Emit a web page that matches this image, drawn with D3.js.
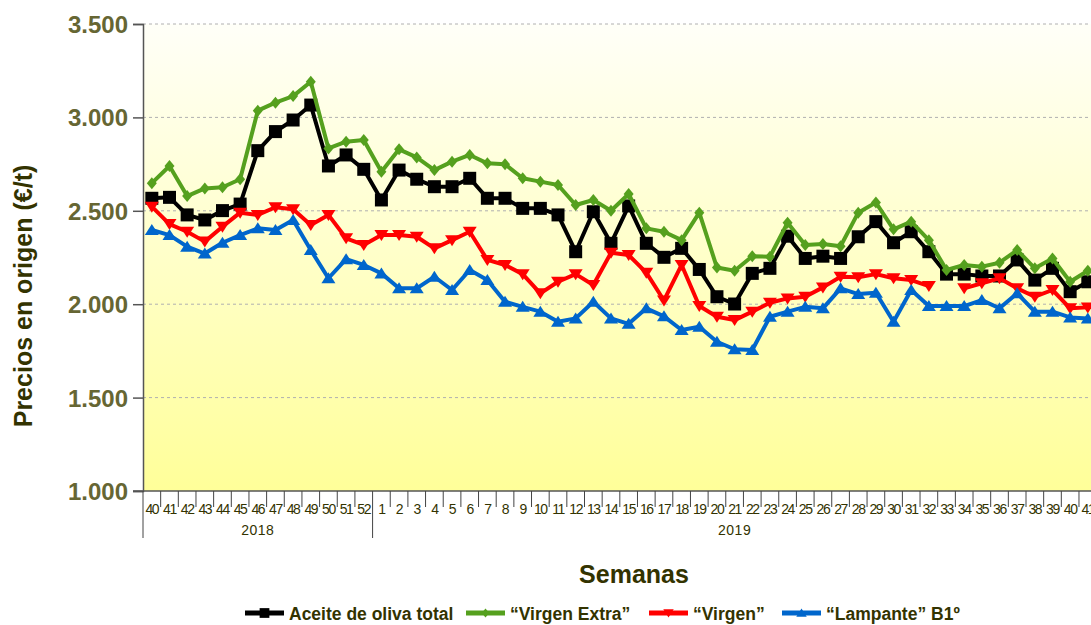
<!DOCTYPE html>
<html><head><meta charset="utf-8">
<script src="https://cdn.jsdelivr.net/npm/d3@7/dist/d3.min.js"></script>
<style>body{margin:0;background:#fff;} svg{display:block;font-family:Arial,"Liberation Sans",sans-serif;}</style>
</head><body>
<svg id="c" width="1091" height="625"></svg>
<script>
const weeks2018 = ["40","41","42","43","44","45","46","47","48","49","50","51","52"];
const weeks2019 = ["1","2","3","4","5","6","7","8","9","10","11","12","13","14","15","16","17","18","19","20","21","22","23","24","25","26","27","28","29","30","31","32","33","34","35","36","37","38","39","40","41"];
const years = ["2018","2019"];
const yTicks = [1000,1500,2000,2500,3000,3500];

const aceiteTotal = [2567,2572,2478,2451,2501,2536,2822,2924,2986,3066,2740,2799,2722,
 2558,2718,2669,2629,2629,2674,2567,2567,2513,2513,2478,2281,2495,2326,2526,2326,2251,2299,2186,2040,2001,2165,2192,2364,2245,2257,2245,2361,2442,2329,2388,2281,2161,2161,2151,2151,2237,2129,2192,2067,2120];
const virgenExtra = [2648,2740,2579,2620,2626,2669,3036,3079,3114,3191,2834,2870,2879,
 2709,2829,2786,2718,2763,2799,2754,2749,2674,2656,2638,2531,2558,2500,2590,2406,2388,2343,2490,2196,2179,2257,2254,2436,2317,2322,2310,2490,2544,2401,2442,2343,2183,2210,2201,2222,2290,2192,2245,2120,2179];
const virgen = [2522,2429,2388,2335,2415,2490,2478,2519,2508,2424,2478,2353,2317,
 2370,2370,2361,2299,2343,2388,2237,2210,2161,2058,2120,2161,2103,2275,2263,2169,2020,2210,1990,1933,1915,1960,2008,2031,2040,2090,2147,2144,2161,2139,2129,2097,null,2085,2112,2139,2085,2040,2076,1978,1983];
const lampante = [2397,2370,2308,2271,2329,2370,2406,2397,2451,2290,2139,2241,2210,
 2165,2085,2085,2147,2076,2183,2129,2013,1986,1960,1906,1924,2013,1924,1895,1978,1935,1862,1879,1799,1759,1755,1933,1960,1986,1978,2085,2054,2061,1906,2076,1990,1990,1990,2022,1978,2058,1960,1960,1929,1924];

const seriesNames = ["Aceite de oliva total","\u201cVirgen Extra\u201d","\u201cVirgen\u201d","\u201cLampante\u201d B1\u00ba"];
const seriesColors = ["#000000","#55a01e","#ff0000","#0066cc"];
const seriesMarkers = ["square","diamond","triDown","triUp"];
const seriesData = [aceiteTotal, virgenExtra, virgen, lampante];

const cats = weeks2018.map((w,i)=>({key:"a"+i,label:w,year:0})).concat(weeks2019.map((w,i)=>({key:"b"+i,label:w,year:1})));

const svg = d3.select("#c");
const L = 143, T = 24, B = 491, bw = 17.66;
const R = L + cats.length*bw;

const defs = svg.append("defs");
const grad = defs.append("linearGradient").attr("id","bg").attr("x1",0).attr("x2",0).attr("y1",0).attr("y2",1);
grad.append("stop").attr("offset","0%").attr("stop-color","#fffff8");
grad.append("stop").attr("offset","100%").attr("stop-color","#ffff99");

const x = d3.scaleBand().domain(cats.map(c=>c.key)).range([L,R]).padding(0);
const y = d3.scaleLinear().domain([1000,3500]).range([B,T]);

svg.append("rect").attr("x",L).attr("y",T).attr("width",R-L).attr("height",B-T).attr("fill","url(#bg)");

// grid
svg.append("g").selectAll("line").data(yTicks.filter(v=>v>1000)).join("line")
  .attr("x1",L).attr("x2",R).attr("y1",d=>y(d)).attr("y2",d=>y(d))
  .attr("stroke","#b0b0b0").attr("stroke-width",1).attr("stroke-dasharray","3,3");

// y axis
const yAxis = d3.axisLeft(y).tickValues(yTicks).tickSize(10).tickPadding(5)
  .tickFormat(d=>d3.format(",")(d).replace(",","."));
const gy = svg.append("g").attr("transform",`translate(${L},0)`).call(yAxis);
gy.select(".domain").attr("stroke","#555").attr("stroke-width",1.5);
gy.selectAll(".tick line").attr("stroke","#555").attr("stroke-width",1.5);
gy.selectAll(".tick text").attr("font-size","24px").attr("font-weight","bold").attr("fill","#666633").attr("dy","0.35em");

// x axis
svg.append("line").attr("x1",L-10).attr("x2",R).attr("y1",B).attr("y2",B).attr("stroke","#555").attr("stroke-width",1.5);
const bounds = cats.map((c,i)=>({x:x(c.key), big: i===0 || c.year!==cats[i-1].year}));
bounds.push({x:R,big:true});
svg.append("g").selectAll("line").data(bounds).join("line")
  .attr("x1",d=>d.x).attr("x2",d=>d.x).attr("y1",B).attr("y2",d=>d.big?538:507)
  .attr("stroke","#444").attr("stroke-width",1);
svg.append("g").selectAll("text").data(cats).join("text")
  .attr("x",d=>x(d.key)+bw/2).attr("y",514).attr("text-anchor","middle")
  .attr("font-size","14px").attr("letter-spacing","-1.4px").attr("fill","#333300").text(d=>d.label);
years.forEach((yr,i)=>{
  const cs = cats.filter(c=>c.year===i);
  const x0 = x(cs[0].key), x1 = x(cs[cs.length-1].key)+bw;
  svg.append("text").attr("x",(x0+x1)/2).attr("y",535).attr("text-anchor","middle")
    .attr("font-size","14px").attr("letter-spacing","0.5px").attr("fill","#333300").text(yr);
});

// titles
svg.append("text").attr("transform","translate(32,296) rotate(-90)").attr("text-anchor","middle")
  .attr("font-size","25px").attr("font-weight","bold").attr("fill","#333300").text("Precios en origen (\u20ac/t)");
svg.append("text").attr("x",634).attr("y",583).attr("text-anchor","middle")
  .attr("font-size","25px").attr("font-weight","bold").attr("fill","#333300").text("Semanas");

function markerPath(type, s){
  s = s || 1;
  if(type==="square") return `M${-6.5*s},${-6.5*s}H${6.5*s}V${6.5*s}H${-6.5*s}Z`;
  if(type==="diamond") return `M0,${-6*s}L${5*s},0L0,${6*s}L${-5*s},0Z`;
  if(type==="triDown") return `M${-7*s},${-5*s}H${7*s}L0,${6*s}Z`;
  return `M${-7*s},${5*s}H${7*s}L0,${-6*s}Z`;
}

const line = d3.line().defined(d=>d.v!=null).x(d=>x(d.k)+bw/2).y(d=>y(d.v));
seriesData.forEach((arr,si)=>{
  const pts = arr.map((v,i)=>({k:cats[i].key,v:v}));
  const g = svg.append("g");
  g.append("path").datum(pts).attr("d",line).attr("fill","none")
    .attr("stroke",seriesColors[si]).attr("stroke-width",4).attr("stroke-linejoin","round");
  g.selectAll("path.m").data(pts.filter(d=>d.v!=null)).join("path").attr("class","m")
    .attr("transform",d=>`translate(${x(d.k)+bw/2},${y(d.v)})`)
    .attr("d",markerPath(seriesMarkers[si])).attr("fill",seriesColors[si]);
});

// legend
const legX = [245,466,649,782];
const lg = svg.append("g");
seriesNames.forEach((n,i)=>{
  const g = lg.append("g").attr("transform",`translate(${legX[i]},613)`);
  g.append("line").attr("x1",0).attr("x2",39).attr("y1",0).attr("y2",0).attr("stroke",seriesColors[i]).attr("stroke-width",5);
  g.append("path").attr("transform","translate(19.5,0)").attr("d",markerPath(seriesMarkers[i],0.75)).attr("fill",seriesColors[i]);
  g.append("text").attr("x",44).attr("y",6.5).attr("font-size","17.5px").attr("font-weight","bold").attr("fill","#333300").text(n);
});
</script>
</body></html>
